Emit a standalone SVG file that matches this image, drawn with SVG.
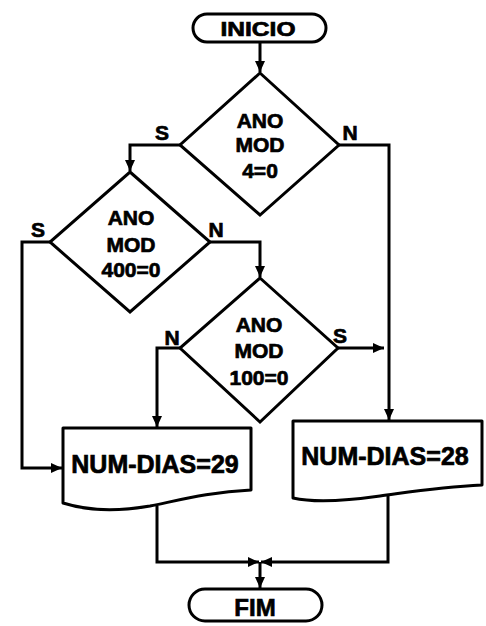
<svg xmlns="http://www.w3.org/2000/svg" width="486" height="626" viewBox="0 0 486 626">
<style>
.sh{fill:#fff;stroke:#000;stroke-width:3;stroke-linejoin:round}
.dm{fill:#fff;stroke:#000;stroke-width:3;stroke-linejoin:miter}
.ln{fill:none;stroke:#000;stroke-width:3;stroke-linejoin:miter}
text{font-family:"Liberation Sans",Arial,sans-serif;font-weight:bold;fill:#000;stroke:#000;stroke-width:0.7;text-anchor:middle}
.dt{font-size:21px}
.lb{font-size:21px}
.bx{font-size:25px}
</style>
<defs>
<marker id="ah" markerUnits="userSpaceOnUse" markerWidth="12" markerHeight="12" viewBox="0 0 12 12" refX="11" refY="6" orient="auto">
<path d="M0,1 L11,6 L0,11 Z" fill="#000"/>
</marker>
</defs>
<rect width="486" height="626" fill="#fff"/>
<g id="connectors">
<path class="ln" d="M260,42 V72" marker-end="url(#ah)"/>
<path class="ln" d="M180,145 H130 V171" marker-end="url(#ah)"/>
<path class="ln" d="M338,145 H389 V420" marker-end="url(#ah)"/>
<path class="ln" d="M210,242 H260 V277" marker-end="url(#ah)"/>
<path class="ln" d="M50,242 H22 V468 H62" marker-end="url(#ah)"/>
<path class="ln" d="M180,348 H157 V427" marker-end="url(#ah)"/>
<path class="ln" d="M338,348 H384" marker-end="url(#ah)"/>
<path class="ln" d="M157,506 V562 H259" marker-end="url(#ah)"/>
<path class="ln" d="M388,494 V562 H261" marker-end="url(#ah)"/>
<path class="ln" d="M260,562 V588" marker-end="url(#ah)"/>
</g>
<g id="inicio">
<rect class="sh" x="193" y="14" width="133" height="28" rx="14" ry="14"/>
<text x="258" y="36" font-size="20" textLength="75" lengthAdjust="spacingAndGlyphs">INICIO</text>
</g>
<g id="d1">
<polygon class="dm" points="260,73 339,145 260,215 180,145"/>
<text class="dt" x="260" y="128">ANO</text>
<text class="dt" x="260" y="152">MOD</text>
<text class="dt" x="260" y="178">4=0</text>
<text class="lb" x="162" y="140">S</text>
<text class="lb" x="350" y="140">N</text>
</g>
<g id="d2">
<polygon class="dm" points="130,172 210,242 130,312 50,242"/>
<text class="dt" x="131" y="225">ANO</text>
<text class="dt" x="131" y="252">MOD</text>
<text class="dt" x="131" y="277">400=0</text>
<text class="lb" x="38" y="237">S</text>
<text class="lb" x="216" y="237">N</text>
</g>
<g id="d3">
<polygon class="dm" points="260,278 338,348 260,422 180,348"/>
<text class="dt" x="259" y="332">ANO</text>
<text class="dt" x="259" y="358">MOD</text>
<text class="dt" x="259" y="385">100=0</text>
<text class="lb" x="172" y="345">N</text>
<text class="lb" x="340" y="343">S</text>
</g>
<g id="doc29">
<path class="sh" d="M63,428 H251 V490 C210,492 180,500 150,506 C115,512 85,510 63,503 Z"/>
<text class="bx" x="155" y="473">NUM-DIAS=29</text>
</g>
<g id="doc28">
<path class="sh" d="M293,421 H482 V485 C440,487 410,492 380,496 C345,501 315,503 293,498 Z"/>
<text class="bx" x="385" y="465">NUM-DIAS=28</text>
</g>
<g id="fim">
<rect class="sh" x="189" y="589" width="133" height="32" rx="16" ry="16"/>
<text x="255" y="616" font-size="24">FIM</text>
</g>
</svg>
